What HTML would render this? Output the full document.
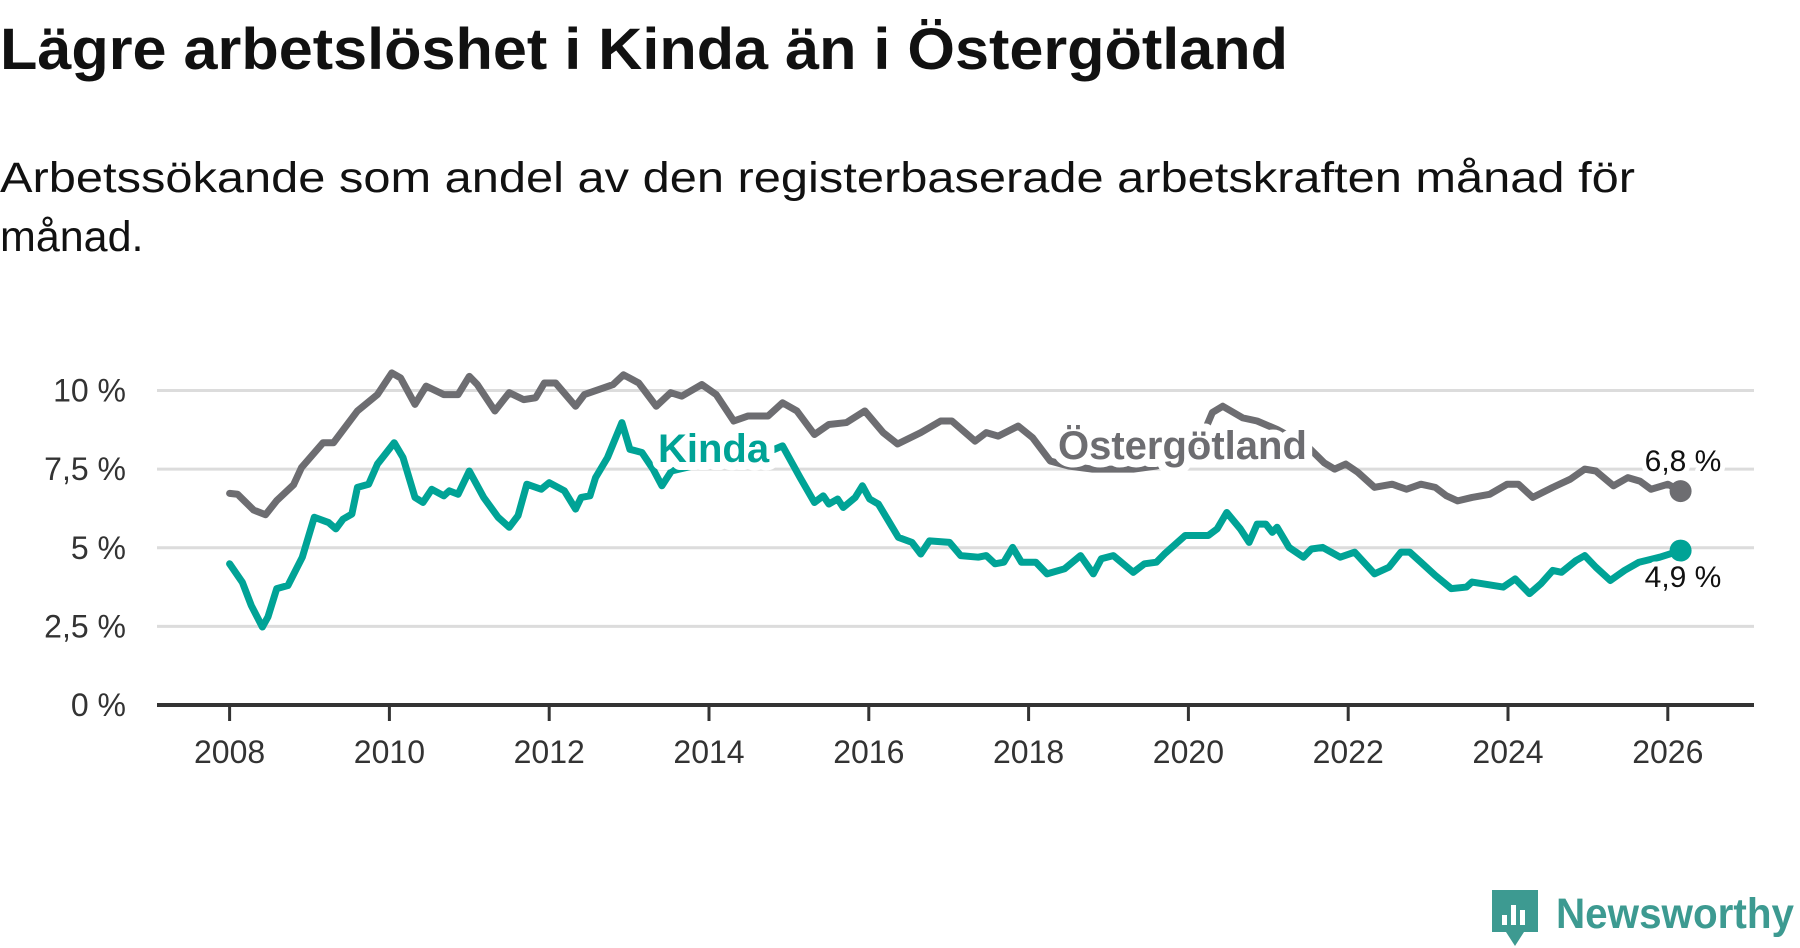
<!DOCTYPE html>
<html><head><meta charset="utf-8"><style>
html,body{margin:0;padding:0;background:#fff;}
svg{display:block;font-family:"Liberation Sans",sans-serif;}
</style></head><body>
<svg id="chart" width="1800" height="948" viewBox="0 0 1800 948" xmlns="http://www.w3.org/2000/svg">
<text x="0" y="69" font-size="58" font-weight="bold" fill="#111" textLength="1288" lengthAdjust="spacingAndGlyphs">Lägre arbetslöshet i Kinda än i Östergötland</text>
<text x="0" y="192" font-size="43" fill="#111" textLength="1635" lengthAdjust="spacingAndGlyphs">Arbetssökande som andel av den registerbaserade arbetskraften månad för</text>
<text x="0" y="251" font-size="43" fill="#111">månad.</text>
<g id="grid"></g><g id="axis"></g><g id="series"></g><g id="labels"></g>
<g>
<path d="M1492 890 h46 v42 h-14 l-9 14 l-9 -14 h-14 z" fill="#3d9a91"/>
<rect x="1502" y="915" width="5" height="10" fill="#fff"/><rect x="1511" y="905" width="5" height="20" fill="#fff"/><rect x="1520" y="910" width="5" height="15" fill="#fff"/>
<text x="1556" y="928" font-size="43" font-weight="bold" fill="#3d9a91" textLength="238" lengthAdjust="spacingAndGlyphs">Newsworthy</text>
</g>
</svg>
<script>
const yTicks=[0,2.5,5,7.5,10];
const yTickLabels=["0 %","2,5 %","5 %","7,5 %","10 %"];
const xTicks=[2008,2010,2012,2014,2016,2018,2020,2022,2024,2026];
const ostDates=[2008.0,2008.1,2008.3,2008.45,2008.59,2008.8,2008.9,2009.17,2009.3,2009.6,2009.85,2010.03,2010.14,2010.32,2010.46,2010.68,2010.86,2011.0,2011.1,2011.32,2011.5,2011.68,2011.83,2011.94,2012.08,2012.33,2012.44,2012.62,2012.8,2012.93,2013.12,2013.34,2013.52,2013.66,2013.91,2014.09,2014.31,2014.49,2014.74,2014.92,2015.1,2015.32,2015.5,2015.72,2015.95,2016.18,2016.36,2016.65,2016.9,2017.04,2017.33,2017.47,2017.62,2017.87,2018.05,2018.27,2018.5,2018.8,2019.1,2019.31,2019.6,2019.9,2020.1,2020.3,2020.43,2020.68,2020.86,2021.11,2021.3,2021.5,2021.7,2021.83,2021.97,2022.12,2022.33,2022.55,2022.73,2022.91,2023.09,2023.23,2023.37,2023.55,2023.77,2023.99,2024.13,2024.31,2024.56,2024.78,2024.96,2025.1,2025.32,2025.5,2025.65,2025.79,2026.0,2026.16];
const ostValues=[6.73,6.7,6.2,6.05,6.5,7.0,7.55,8.34,8.34,9.35,9.87,10.56,10.4,9.56,10.14,9.87,9.87,10.45,10.19,9.35,9.93,9.71,9.77,10.24,10.24,9.5,9.87,10.03,10.19,10.5,10.24,9.5,9.93,9.82,10.19,9.87,9.03,9.19,9.19,9.61,9.35,8.6,8.92,8.98,9.35,8.66,8.3,8.66,9.03,9.03,8.39,8.66,8.55,8.87,8.5,7.76,7.6,7.5,7.5,7.5,7.6,7.8,8.1,9.3,9.5,9.13,9.03,8.76,8.5,8.2,7.7,7.5,7.66,7.4,6.92,7.02,6.86,7.02,6.92,6.65,6.49,6.6,6.7,7.02,7.02,6.6,6.92,7.18,7.5,7.44,6.97,7.23,7.12,6.86,7.02,6.8];
const kinDates=[2008.0,2008.16,2008.27,2008.41,2008.48,2008.59,2008.73,2008.91,2009.06,2009.24,2009.33,2009.42,2009.53,2009.6,2009.74,2009.85,2010.06,2010.17,2010.32,2010.42,2010.53,2010.68,2010.75,2010.86,2011.0,2011.18,2011.36,2011.5,2011.61,2011.72,2011.9,2012.0,2012.19,2012.33,2012.4,2012.51,2012.58,2012.73,2012.91,2013.01,2013.16,2013.3,2013.41,2013.53,2013.8,2014.1,2014.4,2014.7,2014.92,2015.14,2015.32,2015.43,2015.5,2015.61,2015.68,2015.83,2015.92,2016.01,2016.12,2016.37,2016.54,2016.65,2016.76,2017.01,2017.15,2017.37,2017.47,2017.58,2017.69,2017.8,2017.91,2018.09,2018.23,2018.45,2018.65,2018.81,2018.91,2019.06,2019.31,2019.45,2019.6,2019.7,2019.96,2020.25,2020.36,2020.48,2020.65,2020.76,2020.86,2020.97,2021.05,2021.11,2021.26,2021.44,2021.54,2021.68,2021.9,2022.08,2022.33,2022.51,2022.66,2022.77,2022.91,2023.09,2023.29,2023.48,2023.55,2023.94,2024.09,2024.27,2024.41,2024.56,2024.67,2024.85,2024.96,2025.1,2025.28,2025.46,2025.64,2025.9,2026.16];
const kinValues=[4.49,3.9,3.17,2.48,2.8,3.7,3.8,4.7,5.97,5.8,5.6,5.91,6.07,6.92,7.02,7.66,8.34,7.87,6.6,6.44,6.86,6.65,6.81,6.7,7.44,6.6,5.97,5.65,6.02,7.02,6.86,7.07,6.81,6.23,6.6,6.65,7.23,7.87,8.98,8.13,8.03,7.5,6.97,7.44,7.6,7.7,7.8,8.0,8.24,7.23,6.44,6.65,6.39,6.55,6.28,6.6,6.97,6.55,6.39,5.33,5.17,4.8,5.22,5.17,4.75,4.7,4.75,4.49,4.54,5.01,4.54,4.54,4.17,4.33,4.75,4.17,4.65,4.75,4.22,4.49,4.54,4.8,5.39,5.39,5.6,6.12,5.6,5.17,5.75,5.75,5.49,5.65,5.01,4.7,4.96,5.01,4.7,4.86,4.17,4.38,4.86,4.86,4.54,4.12,3.7,3.75,3.91,3.75,4.01,3.54,3.85,4.28,4.22,4.59,4.75,4.38,3.96,4.28,4.54,4.7,4.91];
const NS="http://www.w3.org/2000/svg";
const X0=157,X1=1754;
function xs(t){return 229.6+(t-2008)*79.9;}
function ys(v){return 705-v*31.45;}
function mk(tag,attrs,parent){const e=document.createElementNS(NS,tag);for(const k in attrs)e.setAttribute(k,attrs[k]);parent.appendChild(e);return e;}
const grid=document.getElementById('grid'),axis=document.getElementById('axis'),ser=document.getElementById('series'),lab=document.getElementById('labels');
yTicks.forEach((v,i)=>{
  if(v>0){const l=mk('line',{x1:X0,x2:X1,y1:ys(v),y2:ys(v),stroke:'#dcdcdc','stroke-width':3},grid);
  
  }
  const t=mk('text',{x:126,y:ys(v)+11,'text-anchor':'end','font-size':32,fill:'#333'},axis);
  t.textContent=yTickLabels[i];
  
  
});
const ax=mk('line',{x1:X0,x2:X1,y1:ys(0),y2:ys(0),stroke:'#333','stroke-width':4},axis);


xTicks.forEach(yr=>{
  const tk=mk('line',{x1:xs(yr),x2:xs(yr),y1:ys(0),y2:ys(0)+16,stroke:'#333','stroke-width':3},axis);
  
  
  const t=mk('text',{x:xs(yr),y:763,'text-anchor':'middle','font-size':32,fill:'#333'},axis);
  t.textContent=yr;
  
  
});
function line(d,v,color,name){
  const p=mk('polyline',{points:d.map((t,i)=>xs(t)+','+ys(v[i])).join(' '),fill:'none',stroke:color,'stroke-width':7,'stroke-linejoin':'round','stroke-linecap':'round'},ser);
  
  
  const c=mk('circle',{cx:xs(d[d.length-1]),cy:ys(v[v.length-1]),r:11,fill:color},ser);
  
  
}
line(ostDates,ostValues,'#6d6d71','ostergotland');
line(kinDates,kinValues,'#00a396','kinda');
function label(txt,x,y,size,weight,color,name,anchor,halo){
  const t=mk('text',{x:x,y:y,'font-size':size,'font-weight':weight,fill:color,stroke:'#fff','stroke-width':halo,'paint-order':'stroke','stroke-linejoin':'round','text-anchor':anchor||'start'},lab);
  t.textContent=txt;
  
  
}
label('Kinda',658,462,40,'bold','#00a396','kinda-series-label','start',16);
label('Östergötland',1058,459,40,'bold','#6d6d71','ostergotland-series-label','start',16);
label('6,8 %',1683,471,30,'normal','#111','ostergotland-last-value','middle',10);
label('4,9 %',1683,587,30,'normal','#111','kinda-last-value','middle',10);
</script>
</body></html>
